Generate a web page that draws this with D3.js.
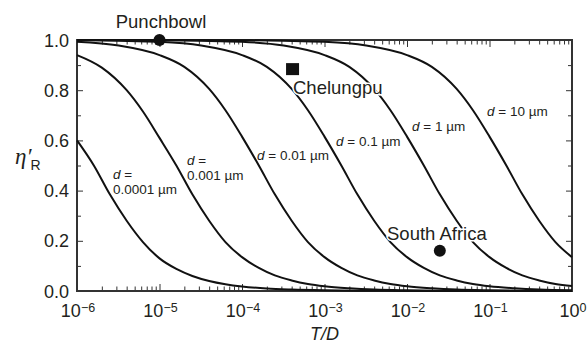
<!DOCTYPE html>
<html>
<head>
<meta charset="utf-8">
<script src="https://cdn.jsdelivr.net/npm/d3@7"></script>
<style>
  body { margin: 0; background: #fff; }
  svg { display: block; }
  text { font-family: "Liberation Sans", Arial, sans-serif; fill: #231f20; }
</style>
</head>
<body>
<div id="main"></div>
<script>
// chart data: [T/D, eta'_R]
const curve_d0_0001 = [[1e-6, 0.60], [1.6e-6, 0.50], [2.5e-6, 0.385], [4e-6, 0.28], [6.3e-6, 0.195],
  [1e-5, 0.13], [1.6e-5, 0.088], [2.5e-5, 0.06], [4e-5, 0.04], [6.3e-5, 0.027], [1e-4, 0.018],
  [2e-4, 0.01], [4e-4, 0.006], [1e-3, 0.003], [3.2e-3, 0.001], [1e-2, 0.0004], [1e-1, 0.0001], [1, 0]];
const curve_d0_001 = [[1e-6, 0.94], [2e-6, 0.89], [4e-6, 0.80], [6.3e-6, 0.715], [1e-5, 0.61],
  [1.6e-5, 0.50], [2.5e-5, 0.385], [4e-5, 0.28], [6.3e-5, 0.195], [1e-4, 0.135], [1.6e-4, 0.092],
  [2.5e-4, 0.062], [4e-4, 0.042], [6.3e-4, 0.028], [1e-3, 0.019], [2e-3, 0.011], [4e-3, 0.006],
  [1e-2, 0.003], [3.2e-2, 0.001], [1e-1, 0.0004], [1, 0.0001]];
const curve_d0_01 = [[1e-6, 0.993], [3.2e-6, 0.978], [1e-5, 0.94], [2e-5, 0.893], [4e-5, 0.805],
  [6.3e-5, 0.72], [1e-4, 0.615], [1.6e-4, 0.50], [2.5e-4, 0.385], [4e-4, 0.28], [6.3e-4, 0.195],
  [1e-3, 0.135], [1.6e-3, 0.092], [2.5e-3, 0.062], [4e-3, 0.042], [6.3e-3, 0.028], [1e-2, 0.019],
  [2e-2, 0.011], [4e-2, 0.006], [1e-1, 0.003], [3.2e-1, 0.001], [1, 0.0004]];
const curve_d0_1 = [[1e-6, 0.999], [3.2e-6, 0.997], [1e-5, 0.993], [3.2e-5, 0.978], [1e-4, 0.94],
  [2e-4, 0.893], [4e-4, 0.805], [6.3e-4, 0.72], [1e-3, 0.615], [1.6e-3, 0.50], [2.5e-3, 0.385],
  [4e-3, 0.28], [6.3e-3, 0.195], [1e-2, 0.135], [1.6e-2, 0.092], [2.5e-2, 0.062], [4e-2, 0.042],
  [6.3e-2, 0.028], [1e-1, 0.019], [2e-1, 0.011], [4e-1, 0.006], [1, 0.003]];
const curve_d1 = [[1e-6, 1.0], [1e-5, 0.999], [3.2e-5, 0.997], [1e-4, 0.993], [3.2e-4, 0.978],
  [1e-3, 0.94], [2e-3, 0.893], [4e-3, 0.805], [6.3e-3, 0.72], [1e-2, 0.615], [1.6e-2, 0.50],
  [2.5e-2, 0.385], [4e-2, 0.28], [6.3e-2, 0.195], [1e-1, 0.135], [1.6e-1, 0.092], [2.5e-1, 0.062],
  [4e-1, 0.042], [6.3e-1, 0.028], [1, 0.02]];
const curve_d10 = [[1e-6, 1.0], [1e-5, 1.0], [1e-4, 0.999], [3.2e-4, 0.997], [1e-3, 0.993],
  [3.2e-3, 0.978], [1e-2, 0.94], [2e-2, 0.893], [4e-2, 0.805], [6.3e-2, 0.72], [1e-1, 0.615],
  [1.6e-1, 0.50], [2.5e-1, 0.385], [4e-1, 0.28], [6.3e-1, 0.195], [1, 0.135]];

const curves = [curve_d0_0001, curve_d0_001, curve_d0_01, curve_d0_1, curve_d1, curve_d10];

// site points
const siteNames = ["Punchbowl", "Chelungpu", "South Africa"];
const siteX = [1e-5, 4.1e-4, 2.5e-2];
const siteY = [1.0, 0.884, 0.16];
const siteShape = ["circle", "square", "circle"];

const xTickExp = [-6, -5, -4, -3, -2, -1, 0];
const yTicks = [0, 0.2, 0.4, 0.6, 0.8, 1.0];

const W = 587, H = 345;
const plot = { left: 77, right: 572, top: 40, bottom: 291 };

const svg = d3.select("#main").append("svg")
  .attr("width", W)
  .attr("height", H);

const x = d3.scaleLog().domain([1e-6, 1]).range([plot.left, plot.right]);
const y = d3.scaleLinear().domain([0, 1]).range([plot.bottom, plot.top]);

// minor ticks on the log axis
const xMinor = [];
for (let e = -6; e < 0; e++) {
  for (let m = 2; m <= 9; m++) xMinor.push(m * Math.pow(10, e));
}
const xMajor = xTickExp.map(e => Math.pow(10, e));
const yMinor = d3.range(0.1, 1, 0.2);

const axisColor = "#333";

function styleAxis(g) {
  g.select(".domain").remove();
  g.selectAll("line").attr("stroke", axisColor).attr("stroke-width", 1);
  g.selectAll("text").remove();
}

// bottom & top
svg.append("g").attr("transform", `translate(0,${plot.bottom})`)
  .call(d3.axisBottom(x).tickValues(xMajor).tickSize(-7)).call(styleAxis);
svg.append("g").attr("transform", `translate(0,${plot.bottom})`)
  .call(d3.axisBottom(x).tickValues(xMinor).tickSize(-4.5)).call(styleAxis);
svg.append("g").attr("transform", `translate(0,${plot.top})`)
  .call(d3.axisTop(x).tickValues(xMajor).tickSize(-7)).call(styleAxis);
svg.append("g").attr("transform", `translate(0,${plot.top})`)
  .call(d3.axisTop(x).tickValues(xMinor).tickSize(-4.5)).call(styleAxis);
// left & right
svg.append("g").attr("transform", `translate(${plot.left},0)`)
  .call(d3.axisLeft(y).tickValues(yTicks).tickSize(-6)).call(styleAxis);
svg.append("g").attr("transform", `translate(${plot.left},0)`)
  .call(d3.axisLeft(y).tickValues(yMinor).tickSize(-4)).call(styleAxis);
svg.append("g").attr("transform", `translate(${plot.right},0)`)
  .call(d3.axisRight(y).tickValues(yTicks).tickSize(-6)).call(styleAxis);
svg.append("g").attr("transform", `translate(${plot.right},0)`)
  .call(d3.axisRight(y).tickValues(yMinor).tickSize(-4)).call(styleAxis);

// frame
svg.append("rect")
  .attr("x", plot.left).attr("y", plot.top)
  .attr("width", plot.right - plot.left).attr("height", plot.bottom - plot.top)
  .attr("fill", "none").attr("stroke", axisColor).attr("stroke-width", 2);

// tick labels
svg.selectAll(".ylab").data(yTicks).enter().append("text")
  .attr("class", "ylab")
  .attr("x", plot.left - 8)
  .attr("y", d => y(d) + 6.5)
  .attr("text-anchor", "end")
  .style("font-size", "18px")
  .text(d => d.toFixed(1));

const xl = svg.selectAll(".xlab").data(xTickExp).enter().append("text")
  .attr("class", "xlab")
  .attr("x", d => x(Math.pow(10, d)) + 1)
  .attr("y", plot.bottom + 26)
  .attr("text-anchor", "middle")
  .style("font-size", "18px");
xl.append("tspan").text("10");
xl.append("tspan").attr("dy", -5.5).style("font-size", "12.5px")
  .text(d => d < 0 ? "\u2212" + Math.abs(d) : String(d));

// axis titles
svg.append("text")
  .attr("x", (plot.left + plot.right) / 2)
  .attr("y", 340)
  .attr("text-anchor", "middle")
  .style("font-size", "18px")
  .style("font-style", "italic")
  .text("T/D");

const yt = svg.append("text").attr("x", 15).attr("y", 164);
yt.append("tspan").style("font-family", "'Liberation Serif', serif")
  .style("font-style", "italic").style("font-size", "23px").text("\u03B7\u2032");
yt.append("tspan").style("font-size", "14px").attr("dy", 6).attr("dx", -1).text("R");

// curves
const line = d3.line()
  .x(d => x(d[0]))
  .y(d => y(d[1]))
  .curve(d3.curveMonotoneX);

svg.append("g").selectAll("path").data(curves).enter().append("path")
  .attr("d", line)
  .attr("fill", "none")
  .attr("stroke", "#111")
  .attr("stroke-width", 2);

// curve labels
const labels = [
  { lines: ["d =", "0.0001 \u00B5m"], x: 113, y: 179 },
  { lines: ["d =", "0.001 \u00B5m"], x: 187, y: 165 },
  { lines: ["d = 0.01 \u00B5m"], x: 257, y: 160 },
  { lines: ["d = 0.1 \u00B5m"], x: 336, y: 146 },
  { lines: ["d = 1 \u00B5m"], x: 412, y: 131 },
  { lines: ["d = 10 \u00B5m"], x: 487, y: 116 }
];
labels.forEach(l => {
  l.lines.forEach((s, i) => {
    const t = svg.append("text")
      .attr("x", l.x).attr("y", l.y + i * 15)
      .style("font-size", "13.5px");
    if (s.startsWith("d")) {
      t.append("tspan").style("font-style", "italic").text("d");
      t.append("tspan").text(s.slice(1));
    } else {
      t.text(s);
    }
  });
});

// site markers
siteX.forEach((sx, i) => {
  if (siteShape[i] === "circle") {
    svg.append("circle")
      .attr("cx", x(sx)).attr("cy", y(siteY[i])).attr("r", 6)
      .attr("fill", "#111");
  } else {
    svg.append("rect")
      .attr("x", x(sx) - 6.5).attr("y", y(siteY[i]) - 6)
      .attr("width", 13).attr("height", 12)
      .attr("fill", "#111");
  }
});

const siteLabelPos = [[161, 28, "middle"], [293, 94, "start"], [387, 240, "start"]];
siteNames.forEach((n, i) => {
  svg.append("text")
    .attr("x", siteLabelPos[i][0]).attr("y", siteLabelPos[i][1])
    .attr("text-anchor", siteLabelPos[i][2])
    .style("font-size", "18.5px")
    .style("stroke", "#fff").style("stroke-width", 3).style("paint-order", "stroke")
    .text(n);
});
</script>
</body>
</html>
